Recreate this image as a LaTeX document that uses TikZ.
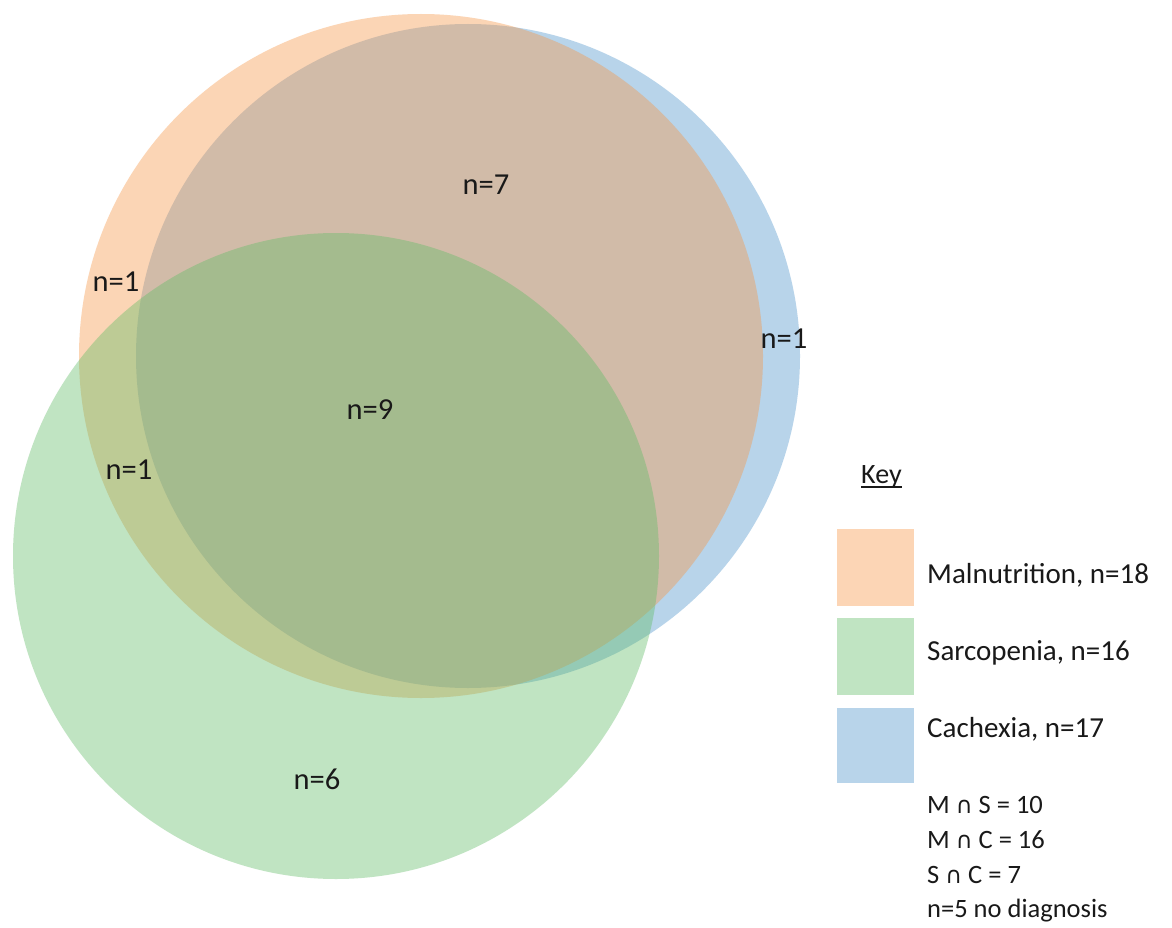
\documentclass[tikz,border=0pt]{standalone}
\usepackage{fontspec}
\setmainfont{Carlito}
\newfontfamily\symfont{DejaVu Sans}
\definecolor{malC}{RGB}{247,150,70}
\definecolor{sarC}{RGB}{98,188,103}
\definecolor{cacC}{RGB}{78,148,203}
\definecolor{malKey}{RGB}{252,213,181}
\definecolor{sarKey}{RGB}{192,228,194}
\definecolor{cacKey}{RGB}{184,212,234}
\definecolor{ink}{RGB}{25,25,25}
\newcommand{\capsym}{{\fontsize{23}{23}\symfont ∩}}
\tikzset{
  setfill/.style={fill opacity=0.4},
  count/.style={text=ink, font=\fontsize{30.5}{30.5}\selectfont, inner sep=0pt},
  keybox/.style={minimum width=77pt, minimum height=77pt, inner sep=0pt, anchor=north west},
  keytext/.style={text=ink, font=\fontsize{29}{29}\selectfont, anchor=base west, inner sep=0pt},
  notetext/.style={text=ink, font=\fontsize{26.5}{26.5}\selectfont, anchor=base west, inner sep=0pt}
}
\begin{document}
\begin{tikzpicture}[x=1pt, y=-1pt]
\useasboundingbox (0,0) rectangle (1172,928);
\fill[white] (0,0) rectangle (1172,928);

% the three sets
\fill[cacC, setfill] (468,356) circle[radius=332];
\fill[malC, setfill] (421,356) circle[radius=342];
\fill[sarC, setfill] (336,556) circle[radius=323];

% region counts
\node[count] (n7) at (486,185) {n=7};
\node[count] (n1a) at (116,282) {n=1};
\node[count] (n1b) at (784,339) {n=1};
\node[count] (n9) at (370,410) {n=9};
\node[count] (n1c) at (129,470) {n=1};
\node[count] (n6) at (317,779) {n=6};

% key
\node[text=ink, font=\fontsize{28}{28}\selectfont, anchor=base west, inner sep=0pt] (key) at (861,483) {Key};
\draw[ink, line width=1.4pt] (key.base west) ++(0,4) coordinate (ul1) -- (ul1 -| key.base east);

\node[keybox, fill=malKey] (kmal) at (837,529) {};
\node[keybox, fill=sarKey] (ksar) at (837,618) {};
\node[keybox, fill=cacKey, minimum height=75pt] (kcac) at (837,708) {};

\node[keytext] (tmal) at (927,583) {Malnutrition, n=18};
\node[keytext] (tsar) at (927,660) {Sarcopenia, n=16};
\node[keytext] (tcac) at (927,737) {Cachexia, n=17};

\node[notetext] (ms) at (927,813) {M \capsym{} S = 10};
\node[notetext] (mc) at (927,848) {M \capsym{} C = 16};
\node[notetext] (sc) at (927,883) {S \capsym{} C = 7};
\node[notetext] (nd) at (927,917) {n=5 no diagnosis};
\end{tikzpicture}
\end{document}
